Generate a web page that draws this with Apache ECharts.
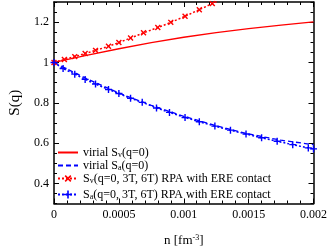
<!DOCTYPE html>
<html><head><meta charset="utf-8">
<script src="https://cdn.jsdelivr.net/npm/echarts@6/dist/echarts.min.js"></script>
<style>html,body{margin:0;padding:0;background:#fff}#c{width:330px;height:252px}</style>
</head><body><div id="c"></div><script>
const nVirial = [0,0.00025,0.0005,0.00075,0.001,0.00125,0.0015,0.00175,0.002];
const virialSv = [1,1.035,1.068,1.098,1.125,1.148,1.168,1.185,1.201];
const virialSa = [1,0.920,0.848,0.787,0.733,0.686,0.645,0.614,0.592];
const nRpaV = [0,0.00008,0.00016,0.00024,0.00032,0.00042,0.0005,0.00059,0.00069,0.0008,0.0009,0.00101,0.00112,0.00122,0.00133];
const rpaSv = [1,1.015,1.029,1.044,1.060,1.080,1.099,1.121,1.147,1.173,1.199,1.229,1.262,1.292,1.326];
const nRpaA = [0,0.00007,0.00016,0.00024,0.00032,0.00042,0.0005,0.00059,0.00068,0.00079,0.00089,0.00101,0.00112,0.00124,0.00136,0.00148,0.0016,0.00172,0.00184,0.00196,0.002];
const rpaSa = [1,0.970,0.942,0.916,0.893,0.866,0.846,0.822,0.802,0.774,0.752,0.727,0.706,0.684,0.664,0.645,0.626,0.609,0.592,0.576,0.571];
const yMajor = [0.4,0.6,0.8,1,1.2];
const yMinor = [0.3,0.35,0.4,0.45,0.5,0.55,0.6,0.65,0.7,0.75,0.8,0.85,0.9,0.95,1,1.05,1.1,1.15,1.2,1.25,1.3];
const seriesNames = ['virial Sv(q=0)','virial Sa(q=0)','Sv(q=0, 3T, 6T) RPA with ERE contact','Sa(q=0, 3T, 6T) RPA with ERE contact'];
const legendRich = {
  'virial Sv(q=0)': 'virial S{sub|v}(q=0)',
  'virial Sa(q=0)': 'virial S{sub|a}(q=0)',
  'Sv(q=0, 3T, 6T) RPA with ERE contact': 'S{sub|v}(q=0, 3T, 6T) RPA with ERE contact',
  'Sa(q=0, 3T, 6T) RPA with ERE contact': 'S{sub|a}(q=0, 3T, 6T) RPA with ERE contact'
};
const zip = (a,b) => a.map((v,i)=>[v,b[i]]);
const FONT = 'Liberation Serif';
const plus = 'path://M4,0H6V4H10V6H6V10H4V6H0V4H4Z';
const axLine = {show:true, lineStyle:{color:'#000', width:1.5}};
const richSub = {sub:{fontSize:8, fontFamily:FONT, color:'#000', verticalAlign:'bottom', lineHeight:10}};
function legend(items, top, gap){
  return {data:items, orient:'vertical', left:57, top:top, padding:0, itemGap:gap, z:20,
    itemWidth:20, itemHeight:10,
    formatter: n => legendRich[n],
    textStyle:{fontFamily:FONT, fontSize:12, lineHeight:13, color:'#000', rich:richSub}};
}
const chart = echarts.init(document.getElementById('c'));
chart.setOption({
  animation:false,
  textStyle:{fontFamily:FONT},
  grid:{left:40, right:14, top:2, bottom:36, containLabel:false},
  legend:[
    legend([{name:seriesNames[0], itemStyle:{opacity:0}},{name:seriesNames[1], itemStyle:{opacity:0}}],146,0),
    legend([{name:seriesNames[2]},{name:seriesNames[3]}],172,3)
  ],
  xAxis:[
    {type:'value', position:'bottom', min:0, max:0.002, interval:0.0005,
     axisLine:axLine, splitLine:{show:false},
     axisTick:{inside:true, length:5, lineStyle:{color:'#000'}},
     minorTick:{show:true, splitNumber:5, length:3, lineStyle:{color:'#000'}},
     axisLabel:{margin:5, fontSize:12, color:'#000', fontFamily:FONT, formatter:v=>String(+v.toFixed(4))},
     name:'n [fm{sup|-3}]', nameLocation:'middle', nameGap:30,
     nameTextStyle:{fontSize:13, fontFamily:FONT, color:'#000', rich:{sup:{fontSize:8, fontFamily:FONT, color:'#000', verticalAlign:'top', padding:[0,0,6,0]}}}},
    {type:'value', position:'top', min:0, max:0.002, interval:0.0005,
     axisLine:axLine, splitLine:{show:false}, axisLabel:{show:false},
     axisTick:{inside:true, length:5, lineStyle:{color:'#000'}},
     minorTick:{show:true, splitNumber:5, length:3, lineStyle:{color:'#000'}}}
  ],
  yAxis:[
    {type:'value', position:'left', min:0.3, max:1.3,
     axisLine:axLine, splitLine:{show:false},
     axisTick:{inside:true, length:5, customValues:yMajor, lineStyle:{color:'#000'}},
     axisLabel:{customValues:yMajor, margin:5, fontSize:12, color:'#000', fontFamily:FONT, formatter:v=>String(+v.toFixed(2))},
     name:'S(q)', nameLocation:'middle', nameGap:31,
     nameTextStyle:{fontSize:15, fontFamily:FONT, color:'#000'}},
    {type:'value', position:'left', min:0.3, max:1.3, splitLine:{show:false},
     axisLine:{show:false}, axisLabel:{show:false},
     axisTick:{inside:true, length:3, customValues:yMinor, lineStyle:{color:'#000'}}},
    {type:'value', position:'right', min:0.3, max:1.3, splitLine:{show:false},
     axisLine:axLine, axisLabel:{show:false},
     axisTick:{inside:true, length:5, customValues:yMajor, lineStyle:{color:'#000'}}},
    {type:'value', position:'right', min:0.3, max:1.3, splitLine:{show:false},
     axisLine:{show:false}, axisLabel:{show:false},
     axisTick:{inside:true, length:3, customValues:yMinor, lineStyle:{color:'#000'}}}
  ],
  series:[
    {name:seriesNames[0], type:'line', data:zip(nVirial,virialSv), showSymbol:false, symbol:'none',
     lineStyle:{color:'#ff0000', width:1.3}, itemStyle:{color:'#ff0000'}},
    {name:seriesNames[1], type:'line', data:zip(nVirial,virialSa), showSymbol:false, symbol:'none',
     lineStyle:{color:'#0000ff', width:1.3, type:[5,3]}, itemStyle:{color:'#0000ff'}},
    {name:seriesNames[2], type:'line', data:zip(nRpaV,rpaSv), symbol:plus, symbolRotate:45, symbolSize:7,
     lineStyle:{color:'#ff0000', width:1.5, type:[2,2]}, itemStyle:{color:'#ff0000'}},
    {name:seriesNames[3], type:'line', data:zip(nRpaA,rpaSa), symbol:plus, symbolSize:7,
     lineStyle:{color:'#0000ff', width:1.5, type:[2,2]}, itemStyle:{color:'#0000ff'}}
  ]
});
</script></body></html>
